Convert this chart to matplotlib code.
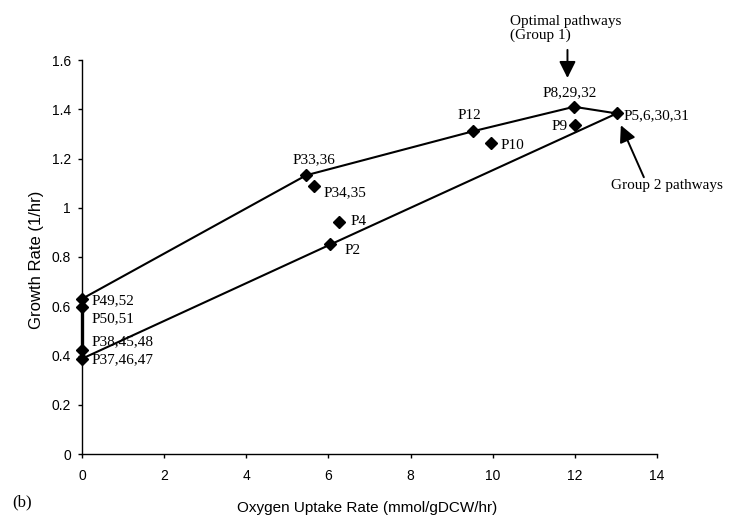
import matplotlib
matplotlib.use("Agg")
import matplotlib.pyplot as plt

# ---- data ----
labels = ["P49,52", "P50,51", "P38,45,48", "P37,46,47", "P33,36", "P34,35",
          "P4", "P2", "P12", "P10", "P9", "P8,29,32", "P5,6,30,31"]
oxygen = [0.0, 0.0, 0.0, 0.0, 5.46, 5.64, 6.25, 6.05, 9.53, 9.97, 12.0, 11.98, 13.02]
growth = [0.63, 0.595, 0.423, 0.387, 1.132, 1.087, 0.942, 0.851, 1.311, 1.261, 1.338, 1.41, 1.383]

upper_path = ["P49,52", "P33,36", "P12", "P8,29,32", "P5,6,30,31"]
lower_path = ["P37,46,47", "P2", "P5,6,30,31"]
axis_path = ["P49,52", "P50,51", "P38,45,48", "P37,46,47"]

x_ticks = [0, 2, 4, 6, 8, 10, 12, 14]
y_ticks = [0, 0.2, 0.4, 0.6, 0.8, 1.0, 1.2, 1.4, 1.6]
y_tick_labels = ["0", "0.2", "0.4", "0.6", "0.8", "1", "1.2", "1.4", "1.6"]

# label layout (offset in pixels, alignment)
label_layout = {
    "P49,52": ((10, -2), "left"),
    "P50,51": ((10, -11), "left"),
    "P38,45,48": ((10, 8), "left"),
    "P37,46,47": ((10, -1), "left"),
    "P33,36": ((8, 16), "center"),
    "P34,35": ((10, -6), "left"),
    "P4": ((12, 1), "left"),
    "P2": ((14, -6), "left"),
    "P12": ((-4, 16), "center"),
    "P10": ((9, -2), "left"),
    "P9": ((-7, -2), "right"),
    "P8,29,32": ((-4, 14), "center"),
    "P5,6,30,31": ((7, -2), "left"),
}

sans = ["Liberation Sans", "DejaVu Sans"]
serif = ["Liberation Serif", "DejaVu Serif"]

fig = plt.figure(figsize=(7.3, 5.2), dpi=100)
ax = fig.add_axes([82 / 730, 66 / 520, 575 / 730, 394 / 520])

pts = {n: (x, y) for n, x, y in zip(labels, oxygen, growth)}

def draw_path(names, lw):
    xs = [pts[n][0] for n in names]
    ys = [pts[n][1] for n in names]
    ax.plot(xs, ys, color="black", lw=lw, clip_on=False, zorder=3)

draw_path(upper_path, 1.5)
draw_path(lower_path, 1.5)
draw_path(axis_path, 2.4)

ax.plot(oxygen, growth, linestyle="none", marker="D", markersize=6.5,
        color="black", clip_on=False, zorder=4)

for n in labels:
    (dx, dy), ha = label_layout[n]
    ax.annotate(n, xy=pts[n], xytext=(dx, dy), textcoords="offset pixels",
                ha=ha, va="center", family=serif, fontsize=11,
                annotation_clip=False)

# arrows and notes
ax.annotate("", xy=(11.82, 1.527), xytext=(11.82, 1.641),
            arrowprops=dict(arrowstyle="-|>,head_length=0.5,head_width=0.25",
                            mutation_scale=20, lw=1.4, color="black",
                            shrinkA=0, shrinkB=0),
            annotation_clip=False)
ax.text(10.41, 1.727, "Optimal pathways\n(Group 1)", ha="left", va="center",
        family=serif, fontsize=11, linespacing=1.1, clip_on=False)

ax.annotate("", xy=(13.12, 1.335), xytext=(13.68, 1.124),
            arrowprops=dict(arrowstyle="-|>,head_length=0.5,head_width=0.25",
                            mutation_scale=20, lw=1.4, color="black",
                            shrinkA=0, shrinkB=0),
            annotation_clip=False)
ax.text(12.88, 1.091, "Group 2 pathways", ha="left", va="center",
        family=serif, fontsize=11, clip_on=False)

ax.set_xlim(0, 14)
ax.set_ylim(0, 1.6)
ax.set_xticks(x_ticks)
ax.set_xticklabels([str(t) for t in x_ticks], family=sans, fontsize=10)
ax.set_yticks(y_ticks)
ax.set_yticklabels(y_tick_labels, family=sans, fontsize=10)
ax.tick_params(axis="x", direction="out", length=3, width=1, pad=8)
ax.tick_params(axis="y", direction="out", length=3, width=1, pad=5)
for s in ["top", "right"]:
    ax.spines[s].set_visible(False)
for s in ["left", "bottom"]:
    ax.spines[s].set_linewidth(1)

fig.text(367 / 730, 1 - 508 / 520, "Oxygen Uptake Rate (mmol/gDCW/hr)",
         ha="center", va="center", family=sans, fontsize=11)
fig.text(37 / 730, 1 - 260 / 520, "Growth Rate (1/hr)", rotation=90,
         ha="center", va="center", family=sans, fontsize=12)
fig.text(12 / 730, 1 - 502 / 520, "(b)", ha="left", va="center",
         family=serif, fontsize=12)

fig.savefig("out.png", dpi=100)
